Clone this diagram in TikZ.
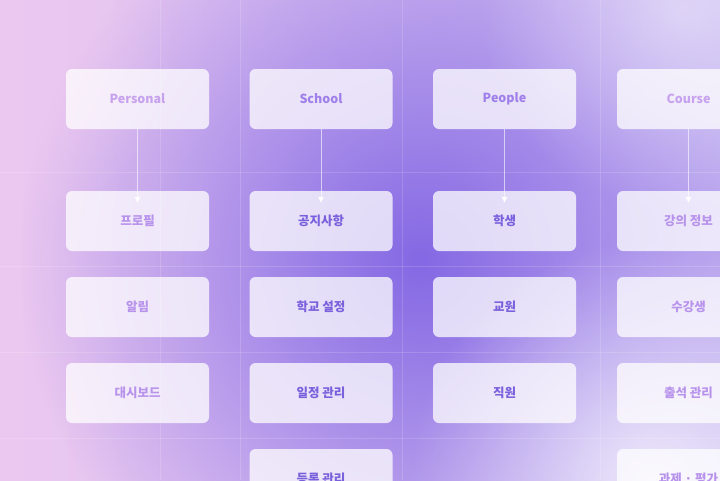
\documentclass[tikz,border=0pt]{standalone}
\usepackage{fontspec}
\setmainfont{Noto Sans CJK KR}
\usetikzlibrary{fadings,arrows.meta}
\tikzfading[name=soft, inner color=transparent!0, outer color=transparent!100]
\definecolor{bgL}{HTML}{EBC8F0}
\definecolor{bgR}{HTML}{C9B8F2}
\definecolor{mid}{HTML}{8468E4}
\definecolor{cA}{HTML}{C7A2EE}
\definecolor{cB}{HTML}{9F80EA}
\definecolor{cC}{HTML}{7A60DC}
\definecolor{cD}{HTML}{B893EC}
\tikzset{
  box/.style={fill=white,fill opacity=0.75,text opacity=1,rounded corners=6pt,minimum width=143pt,minimum height=60pt,inner sep=0pt,font=\fontsize{12.5}{14}\selectfont\bfseries},
  conn/.style={draw=white,draw opacity=0.6,line width=0.8pt,-{Triangle[length=6pt,width=6pt]}},
  grid/.style={draw=white,draw opacity=0.15,line width=0.6pt}
}
\begin{document}
\begin{tikzpicture}[x=1pt,y=-1pt]
\useasboundingbox (0,0) rectangle (720,480);
\clip (0,0) rectangle (720,480);
\shade[left color=bgL,right color=bgR] (0,0) rectangle (720,480);
\fill[mid,path fading=soft,fill opacity=1] (420,260) circle (400);
\fill[bgL,path fading=soft,fill opacity=0.9] (-40,30) circle (220);
\fill[white,path fading=soft,fill opacity=0.75] (650,480) circle (240);
\fill[white,path fading=soft,fill opacity=0.45] (680,10) circle (200);
\foreach \yy in {172,266,352,438} \draw[grid] (0,\yy) -- (720,\yy);
\foreach \xx in {160,240,402,600} \draw[grid] (\xx,0) -- (\xx,480);
% headers
\node[box,text=cA] (h1) at (137.5,99) {Personal};
\node[box,text=cB] (h2) at (321,99) {School};
\node[box,text=cB] (h3) at (504.5,99) {People};
\node[box,text=cA] (h4) at (688.5,99) {Course};
% column 1
\node[box,text=cD] (a1) at (137.5,221) {프로필};
\node[box,text=cD] (a2) at (137.5,307) {알림};
\node[box,text=cD] (a3) at (137.5,393) {대시보드};
% column 2
\node[box,text=cC] (b1) at (321,221) {공지사항};
\node[box,text=cC] (b2) at (321,307) {학교 설정};
\node[box,text=cC] (b3) at (321,393) {일정 관리};
\node[box,text=cC] (b4) at (321,479) {등록 관리};
% column 3
\node[box,text=cC] (c1) at (504.5,221) {학생};
\node[box,text=cC] (c2) at (504.5,307) {교원};
\node[box,text=cC] (c3) at (504.5,393) {직원};
% column 4
\node[box,text=cD] (d1) at (688.5,221) {강의 정보};
\node[box,text=cD] (d2) at (688.5,307) {수강생};
\node[box,text=cD] (d3) at (688.5,393) {출석 관리};
\node[box,text=cD] (d4) at (688.5,479) {과제 · 평가};
% connectors
\foreach \h/\t in {h1/a1,h2/b1,h3/c1,h4/d1}
  \draw[conn] (\h.south) -- ([yshift=-12pt]\t.north);
\end{tikzpicture}
\end{document}
